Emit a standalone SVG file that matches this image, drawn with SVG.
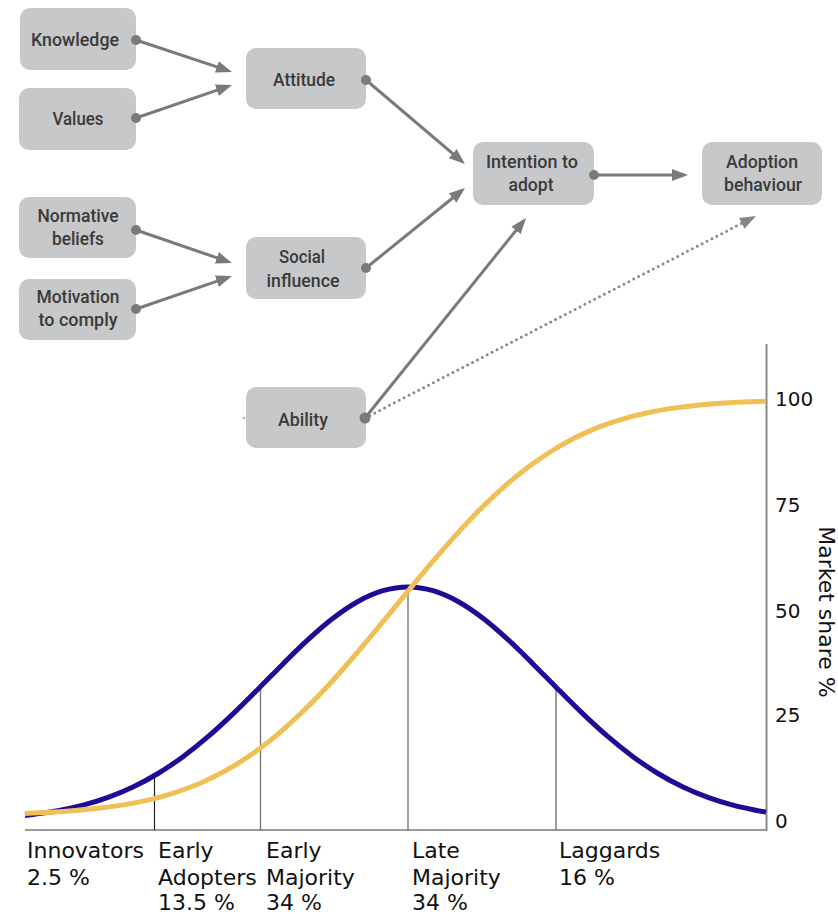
<svg xmlns="http://www.w3.org/2000/svg" width="838" height="914" viewBox="0 0 838 914">
<style>
.box{fill:#c7c8ca;}
.nt{font-family:Roboto,"Liberation Sans",sans-serif;font-size:19px;font-weight:500;fill:#3a3a3a;text-anchor:middle;}
.con{stroke:#7a7a7a;stroke-width:3;fill:none;}
.dot{fill:#7a7a7a;}
.dotted{stroke:#8a8a8a;stroke-width:3;fill:none;stroke-dasharray:0 5.5;stroke-linecap:round;}
.lab{font-family:"DejaVu Sans","Liberation Sans",sans-serif;font-size:22px;fill:#111;}
.tick{font-family:"DejaVu Sans","Liberation Sans",sans-serif;font-size:20px;fill:#111;}
</style>
<defs>
<marker id="ah" viewBox="0 0 16 12" refX="12" refY="6" markerWidth="16" markerHeight="12" markerUnits="userSpaceOnUse" orient="auto">
<path d="M0,0 L16,6 L0,12 z" fill="#7a7a7a"/>
</marker>
<marker id="ahd" viewBox="0 0 16 12" refX="12" refY="6" markerWidth="16" markerHeight="12" markerUnits="userSpaceOnUse" orient="auto">
<path d="M0,0 L16,6 L0,12 z" fill="#858585"/>
</marker>
</defs>
<rect width="838" height="914" fill="#ffffff"/>

<g id="chart">
<line x1="25" y1="830" x2="767" y2="830" stroke="#9a9a9a" stroke-width="2"/>
<line x1="766.5" y1="344" x2="766.5" y2="831" stroke="#8a8a8a" stroke-width="2"/>
<line x1="154.5" y1="777" x2="154.5" y2="830" stroke="#222" stroke-width="1.2"/>
<line x1="260.5" y1="688" x2="260.5" y2="830" stroke="#777" stroke-width="1.4"/>
<line x1="408" y1="587" x2="408" y2="830" stroke="#777" stroke-width="1.4"/>
<line x1="556" y1="688" x2="556" y2="830" stroke="#777" stroke-width="1.4"/>
<path fill="none" stroke="#1f0c96" stroke-width="5" stroke-linejoin="round" d="M25,815.5 L33,814.5 C41.3,813.3 49.7,812.25 58,810.7 C66.3,809.15 74.7,807.42 83,805.2 C91.3,802.98 99.7,800.43 108,797.4 C116.3,794.37 124.7,790.98 133,787.0 C141.3,783.02 149.7,778.55 158,773.5 C166.3,768.45 174.7,762.83 183,756.7 C191.3,750.57 199.7,743.83 208,736.7 C216.3,729.57 224.7,721.82 233,713.9 C241.3,705.98 249.7,697.53 258,689.2 C266.3,680.87 274.7,672.15 283,663.9 C291.3,655.65 299.7,647.3 308,639.7 C316.3,632.1 324.7,624.67 333,618.3 C341.3,611.93 349.7,606.1 358,601.5 C366.3,596.9 374.7,593.12 383,590.7 C391.3,588.28 399.7,587 408,587 C416.3,587 424.7,588.28 433,590.7 C441.3,593.12 449.7,596.9 458,601.5 C466.3,606.1 474.7,611.93 483,618.3 C491.3,624.67 499.7,632.1 508,639.7 C516.3,647.3 524.7,655.65 533,663.9 C541.3,672.15 549.7,680.87 558,689.2 C566.3,697.53 574.7,705.98 583,713.9 C591.3,721.82 599.7,729.57 608,736.7 C616.3,743.83 624.7,750.57 633,756.7 C641.3,762.83 649.7,768.45 658,773.5 C666.3,778.55 674.7,783.02 683,787.0 C691.3,790.98 699.7,794.37 708,797.4 C716.3,800.43 724.7,802.98 733,805.2 C741.3,807.42 749.7,808.96 758,810.7 L766,812.1"/>
<path fill="none" stroke="#f0c057" stroke-width="5" stroke-linejoin="round" d="M25,813.5 C33.3,813.1 41.7,812.8 50,812.3 C58.3,811.8 66.7,811.22 75,810.5 C83.3,809.78 91.7,808.98 100,808.0 C108.3,807.02 116.7,806.0 125,804.6 C133.3,803.2 141.7,801.6 150,799.6 C158.3,797.6 166.7,795.33 175,792.6 C183.3,789.87 191.7,786.8 200,783.2 C208.3,779.6 216.7,775.62 225,771.0 C233.3,766.38 241.7,761.23 250,755.5 C258.3,749.77 266.7,743.47 275,736.6 C283.3,729.73 291.7,722.23 300,714.3 C308.3,706.37 316.7,697.88 325,689.0 C333.3,680.12 341.7,670.62 350,661.0 C358.3,651.38 366.7,641.32 375,631.3 C383.3,621.28 391.7,611.02 400,600.9 C408.3,590.78 416.7,580.48 425,570.6 C433.3,560.72 441.7,550.95 450,541.6 C458.3,532.25 466.7,523.03 475,514.5 C483.3,505.97 491.7,497.9 500,490.4 C508.3,482.9 516.7,475.9 525,469.5 C533.3,463.1 541.7,457.28 550,452.0 C558.3,446.72 566.7,442.02 575,437.8 C583.3,433.58 591.7,429.95 600,426.7 C608.3,423.45 616.7,420.72 625,418.3 C633.3,415.88 641.7,413.93 650,412.2 C658.3,410.47 666.7,409.12 675,407.9 C683.3,406.68 691.7,405.72 700,404.9 C708.3,404.08 716.7,403.52 725,403.0 C733.3,402.48 741.7,402.17 750,401.8 C755.3,401.56 760.7,401.3 766,401.2"/>
<text class="tick" x="775" y="406">100</text>
<text class="tick" x="775" y="512">75</text>
<text class="tick" x="775" y="618">50</text>
<text class="tick" x="775" y="722">25</text>
<text class="tick" x="775" y="828">0</text>
<text class="lab" transform="translate(819,612) rotate(90)" text-anchor="middle">Market share %</text>
<text class="lab" x="27" y="858">Innovators</text>
<text class="lab" x="27" y="885">2.5 %</text>
<text class="lab" x="158" y="858">Early</text>
<text class="lab" x="158" y="885">Adopters</text>
<text class="lab" x="158" y="910">13.5 %</text>
<text class="lab" x="266" y="858">Early</text>
<text class="lab" x="266" y="885">Majority</text>
<text class="lab" x="266" y="910">34 %</text>
<text class="lab" x="412" y="858">Late</text>
<text class="lab" x="412" y="885">Majority</text>
<text class="lab" x="412" y="910">34 %</text>
<text class="lab" x="559" y="858">Laggards</text>
<text class="lab" x="559" y="885">16 %</text>
</g>

<g id="knowledge"><rect class="box" x="20" y="8" width="116" height="62" rx="10"/><text class="nt" x="75" y="46" textLength="88" lengthAdjust="spacingAndGlyphs">Knowledge</text></g>
<g id="values"><rect class="box" x="19" y="88" width="117" height="62" rx="10"/><text class="nt" x="78" y="125" textLength="51" lengthAdjust="spacingAndGlyphs">Values</text></g>
<g id="attitude"><rect class="box" x="246" y="48" width="120" height="61" rx="10"/><text class="nt" x="304" y="86" textLength="62" lengthAdjust="spacingAndGlyphs">Attitude</text></g>
<g id="normative"><rect class="box" x="19" y="197" width="117" height="61" rx="10"/><text class="nt" x="78" y="222" textLength="81" lengthAdjust="spacingAndGlyphs">Normative</text><text class="nt" x="78" y="245" textLength="52" lengthAdjust="spacingAndGlyphs">beliefs</text></g>
<g id="motivation"><rect class="box" x="19" y="279" width="117" height="61" rx="10"/><text class="nt" x="78" y="303" textLength="83" lengthAdjust="spacingAndGlyphs">Motivation</text><text class="nt" x="78" y="326" textLength="79" lengthAdjust="spacingAndGlyphs">to comply</text></g>
<g id="social"><rect class="box" x="246" y="237" width="120" height="62" rx="10"/><text class="nt" x="302" y="263" textLength="46" lengthAdjust="spacingAndGlyphs">Social</text><text class="nt" x="303" y="287" textLength="73" lengthAdjust="spacingAndGlyphs">influence</text></g>
<g id="ability"><rect class="box" x="246" y="387" width="120" height="61" rx="10"/><text class="nt" x="303" y="426" textLength="50" lengthAdjust="spacingAndGlyphs">Ability</text></g>
<g id="intention"><rect class="box" x="473" y="142" width="121" height="63" rx="10"/><text class="nt" x="532" y="168" textLength="92" lengthAdjust="spacingAndGlyphs">Intention to</text><text class="nt" x="531" y="191" textLength="45" lengthAdjust="spacingAndGlyphs">adopt</text></g>
<g id="adoption"><rect class="box" x="702" y="142" width="120" height="63" rx="10"/><text class="nt" x="762" y="168" textLength="72" lengthAdjust="spacingAndGlyphs">Adoption</text><text class="nt" x="763" y="191" textLength="78" lengthAdjust="spacingAndGlyphs">behaviour</text></g>

<g id="connectors">
<line class="con" x1="136" y1="40" x2="228.2" y2="70.7" marker-end="url(#ah)"/>
<line class="con" x1="136" y1="118" x2="228.2" y2="86.3" marker-end="url(#ah)"/>
<line class="con" x1="136" y1="230" x2="228.2" y2="261.7" marker-end="url(#ah)"/>
<line class="con" x1="136" y1="309" x2="228.2" y2="277.3" marker-end="url(#ah)"/>
<line class="con" x1="366" y1="80" x2="461.9" y2="161.4" marker-end="url(#ah)"/>
<line class="con" x1="366" y1="268" x2="461.9" y2="190.5" marker-end="url(#ah)"/>
<line class="con" x1="594" y1="175" x2="684" y2="175" marker-end="url(#ah)"/>
<line class="con" x1="365" y1="418" x2="523.5" y2="221.1" marker-end="url(#ah)"/>
<line class="dotted" x1="365" y1="418" x2="752.4" y2="217.8" marker-end="url(#ahd)"/>
<line x1="242.5" y1="418" x2="245" y2="418" stroke="#999" stroke-width="1.5"/>
<circle class="dot" cx="136" cy="40" r="5"/>
<circle class="dot" cx="136" cy="118" r="5"/>
<circle class="dot" cx="136" cy="230" r="5"/>
<circle class="dot" cx="136" cy="309" r="5"/>
<circle class="dot" cx="366" cy="80" r="5"/>
<circle class="dot" cx="366" cy="268" r="5"/>
<circle class="dot" cx="594" cy="175" r="5"/>
<circle class="dot" cx="365" cy="418" r="5.5"/>
</g>
</svg>
